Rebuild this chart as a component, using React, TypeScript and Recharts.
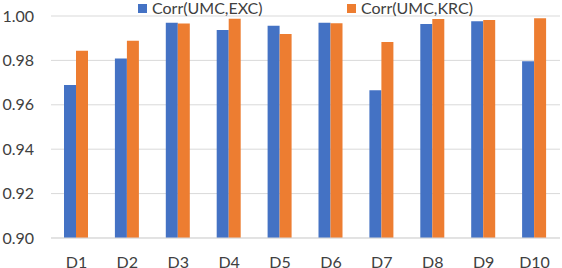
import React from 'react';
import { BarChart, Bar, XAxis, YAxis, CartesianGrid, Legend } from 'recharts';

const categories = ['D1', 'D2', 'D3', 'D4', 'D5', 'D6', 'D7', 'D8', 'D9', 'D10'];
const corrExc = [0.9689, 0.9809, 0.997, 0.9937, 0.9956, 0.997, 0.9665, 0.9964, 0.9976, 0.9796];
const corrKrc = [0.9844, 0.9889, 0.9966, 0.9988, 0.9919, 0.9967, 0.9883, 0.9986, 0.9982, 0.999];
const yTicks = [0.9, 0.92, 0.94, 0.96, 0.98, 1.0];

const seriesNames = ['Corr(UMC,EXC)', 'Corr(UMC,KRC)'];
const colors = ['#4472C4', '#ED7D31'];

const data = categories.map((name, i) => ({
  name,
  exc: corrExc[i],
  krc: corrKrc[i],
}));

const FONT = 'Lato, "Open Sans", sans-serif';

const LegendBox = () => (
  <div style={{ position: 'relative', height: 16, fontFamily: FONT, fontSize: 16, color: '#404040' }}>
    {seriesNames.map((s, i) => (
      <div
        key={s}
        style={{
          position: 'absolute',
          left: i === 0 ? 138 : 347,
          top: 0,
          display: 'flex',
          alignItems: 'center',
          whiteSpace: 'nowrap',
          lineHeight: '16px',
        }}
      >
        <span style={{ display: 'inline-block', width: 9, height: 9, background: colors[i], marginRight: 5 }} />
        {s}
      </div>
    ))}
  </div>
);

const App = () => {
  return (
    <div style={{ width: 562, height: 268, background: 'white', overflow: 'hidden' }}>
      <style>{'body{margin:0}'}</style>
      <BarChart
        width={562}
        height={268}
        data={data}
        margin={{ top: 16, right: 2, left: 0, bottom: 0 }}
        barGap={0}
        barSize={12}
      >
        <CartesianGrid vertical={false} stroke="#d9d9d9" />
        <XAxis
          dataKey="name"
          height={30}
          axisLine={{ stroke: '#d9d9d9' }}
          tickLine={false}
          tickSize={0}
          tickMargin={19}
          tick={{ fontSize: 16, fill: '#404040', fontFamily: FONT }}
          interval={0}
        />
        <YAxis
          width={51}
          domain={[0.9, 1.0]}
          ticks={yTicks}
          tickFormatter={(v) => Number(v).toFixed(2)}
          axisLine={false}
          tickLine={false}
          tickSize={0}
          tickMargin={17}
          tick={{ fontSize: 16, fill: '#404040', fontFamily: FONT }}
          allowDataOverflow
        />
        <Legend
          verticalAlign="middle"
          layout="horizontal"
          wrapperStyle={{ top: 0, left: 0, width: 562 }}
          content={() => <LegendBox />}
        />
        <Bar dataKey="exc" name={seriesNames[0]} fill={colors[0]} isAnimationActive={false} />
        <Bar dataKey="krc" name={seriesNames[1]} fill={colors[1]} isAnimationActive={false} />
      </BarChart>
    </div>
  );
};

export default App;
